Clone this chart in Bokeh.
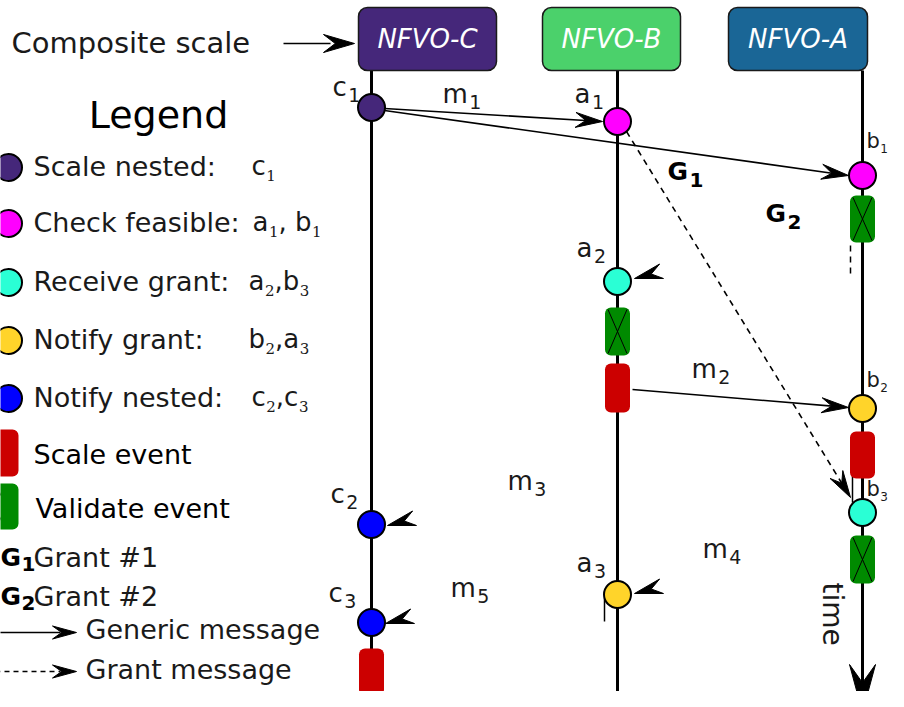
import math
from bokeh.plotting import figure
from bokeh.models import Range1d
from bokeh.core.properties import value
from bokeh.embed import file_html
from bokeh.resources import INLINE

# ---------------- data ----------------
lane_names = ["NFVO-C", "NFVO-B", "NFVO-A"]
lane_x = [371, 617, 862]
lane_top = [70, 70, 70]
lane_bottom = [703, 697, 690]
header_left = [358, 542, 728]
header_right = [496, 680, 867]
header_top = [7, 7, 7]
header_bottom = [70, 70, 70]
header_colors = ["#45277a", "#4bd16b", "#1a6696"]

event_main = ["c", "c", "c", "a", "a", "a", "b", "b", "b"]
event_sub = ["1", "2", "3", "1", "2", "3", "1", "2", "3"]
event_lane = [0, 0, 0, 1, 1, 1, 2, 2, 2]
event_y = [107, 524, 622, 121, 281, 594, 175, 408, 512]
event_kind = ["nested", "nnested", "nnested", "check", "receive", "notify",
              "check", "notify", "receive"]
event_label_x = [332, 330, 328, 574, 576, 576, 866, 866, 866]
event_label_base = [96, 503, 602, 103, 257, 572, 148, 387, 496]
event_label_size = [26, 26, 26, 26, 26, 26, 21, 21, 21]

kind_color = {"nested": "#45277a", "check": "#ff00ff", "receive": "#2affd5",
              "notify": "#ffd42a", "nnested": "#0000ff"}

block_lane = [0, 1, 1, 2, 2, 2]
block_top = [648, 307, 363, 195, 431, 535]
block_bottom = [695, 355, 412, 242, 478, 583]
block_kind = ["scale", "validate", "scale", "validate", "scale", "validate"]
block_color = {"scale": "#cc0000", "validate": "#008a00"}

msg_x0 = [384, 384, 632, 626]
msg_y0 = [108, 110, 389, 131]
msg_x1 = [602, 848, 848, 850]
msg_y1 = [121, 175, 407, 497]
msg_dash = ["solid", "solid", "solid", "6 5"]

msg_main = ["m", "m", "m", "m", "m"]
msg_sub = ["1", "2", "3", "4", "5"]
msg_label_x = [442, 691, 507, 702, 450]
msg_label_base = [103, 378, 490, 558, 597]

grant_sub = ["1", "2"]
grant_label_x = [667, 765]
grant_label_base = [180, 222]

# incoming arrowheads (pointing left onto events a2, c2, c3, a3)
inc_x = [634, 387, 385, 634]
inc_y = [278, 525, 623, 593]

legend_labels = ["Scale nested:", "Check feasible:", "Receive grant:",
                 "Notify grant:", "Notify nested:"]
legend_values = ["c₁", "a₁, b₁", "a₂,b₃", "b₂,a₃", "c₂,c₃"]
legend_kinds = ["nested", "check", "receive", "notify", "nnested"]
legend_value_x = [251, 252, 248, 248, 251]
legend_base = [175, 231, 290, 348, 406]

legend_blocks = ["Scale event", "Validate event"]
legend_block_kind = ["scale", "validate"]
legend_block_top = [429, 483]
legend_block_bottom = [476, 529]
legend_block_text_x = [33, 35]
legend_block_base = [463, 517]

legend_grants = ["Grant #1", "Grant #2"]
legend_grant_base = [566, 605]

legend_msgs = ["Generic message", "Grant message"]
legend_msg_y = [632, 671]
legend_msg_base = [638, 678]
legend_msg_dash = ["solid", "5 4"]

# ---------------- figure ----------------
p = figure(width=888, height=691, x_range=Range1d(0, 888), y_range=Range1d(691, 0),
           toolbar_location=None, output_backend="svg", min_border=0,
           x_axis_type=None, y_axis_type=None)
p.xgrid.visible = False
p.ygrid.visible = False
p.outline_line_color = None
p.background_fill_color = "white"
p.border_fill_color = "white"

SANS = "DejaVu Sans"
MID = 0.35  # anchor offset (fraction of font size) from baseline to text centre
ADV = {"a": 0.613, "b": 0.635, "c": 0.550, "m": 0.974, ",": 0.318, " ": 0.318,
       "G": 0.82}
SUBS = {"₁": "1", "₂": "2", "₃": "3"}


def txt(xs, bases, texts, size, font=SANS, style="normal", color="#1a1a1a",
        align="left"):
    p.text(x=xs, y=[b - MID * size for b in bases], text=texts,
           text_font=value(font), text_font_size=f"{size}px", text_font_style=style,
           text_color=color, text_align=align, text_baseline="alphabetic")


def sublabel(x, base, main, sub, size=26, sub_size=19, style="normal", drop=5,
             color="#1a1a1a", gap=1.5):
    w = sum(ADV.get(ch, 0.6) for ch in main) * size
    txt([x], [base], [main], size, style=style, color=color)
    txt([x + w + gap], [base + drop], [sub], sub_size, style=style, color=color)


def stealth(tx, ty, dx, dy, L, W):
    n = math.hypot(dx, dy)
    dx, dy = dx / n, dy / n
    nx, ny = -dy, dx
    bx, by = tx - L * dx, ty - L * dy
    mx, my = tx - 0.62 * L * dx, ty - 0.62 * L * dy
    return ([tx, bx + W / 2 * nx, mx, bx - W / 2 * nx],
            [ty, by + W / 2 * ny, my, by - W / 2 * ny])


heads_x, heads_y = [], []

# lifelines
p.segment(x0=lane_x, y0=lane_top, x1=lane_x, y1=lane_bottom, line_color="black", line_width=3)
hx, hy = stealth(lane_x[2], 712, 0, 1, 48, 26)
heads_x.append(hx); heads_y.append(hy)

# extra small strokes
p.segment(x0=[850], y0=[245], x1=[850], y1=[277], line_color="black", line_width=1.5, line_dash="6 5")
p.segment(x0=[852, 604], y0=[458, 597], x1=[852, 604], y1=[502, 621], line_color="black", line_width=1.5)

# messages
for x0, y0, x1, y1, d in zip(msg_x0, msg_y0, msg_x1, msg_y1, msg_dash):
    p.line([x0, x1 - (x1 - x0) * 0.02], [y0, y1 - (y1 - y0) * 0.02], line_color="black",
           line_width=1.6, line_dash=d)
    hx, hy = stealth(x1, y1, x1 - x0, y1 - y0, 27, 15)
    heads_x.append(hx); heads_y.append(hy)

# header boxes
p.quad(left=header_left, right=header_right, top=header_top, bottom=header_bottom,
       fill_color=header_colors, line_color="#1a1a1a", line_width=1.5, border_radius=9)
txt([(l + r) / 2 for l, r in zip(header_left, header_right)], [48, 48, 48], lane_names,
    26, style="italic", color="white", align="center")

# blocks
bl = [lane_x[i] - 12.5 for i in block_lane]
br = [lane_x[i] + 12.5 for i in block_lane]
p.quad(left=bl, right=br, top=block_top, bottom=block_bottom,
       fill_color=[block_color[k] for k in block_kind], line_color=None, border_radius=6)
vx = [(l, r, t, b) for l, r, t, b, k in zip(bl, br, block_top, block_bottom, block_kind) if k == "validate"]
vx += [(-7, 18, t, b) for t, b, k in zip(legend_block_top, legend_block_bottom, legend_block_kind) if k == "validate"]
p.segment(x0=[v[0] + 3 for v in vx] + [v[1] - 3 for v in vx],
          y0=[v[2] + 2 for v in vx] * 2,
          x1=[v[1] - 3 for v in vx] + [v[0] + 3 for v in vx],
          y1=[v[3] - 2 for v in vx] * 2, line_color="black", line_width=1)

# events
p.scatter(x=[lane_x[i] for i in event_lane], y=event_y, size=27,
          fill_color=[kind_color[k] for k in event_kind], line_color="black", line_width=2)
for x, b, m, s, sz in zip(event_label_x, event_label_base, event_main, event_sub, event_label_size):
    if sz < 26:
        sublabel(x, b, m, s, size=sz, sub_size=12, gap=0.3, drop=4)
    else:
        sublabel(x, b, m, s, size=sz, sub_size=19)

# incoming arrowheads
for x, y in zip(inc_x, inc_y):
    hx, hy = stealth(x, y, -0.966, 0.259, 28, 15)
    heads_x.append(hx); heads_y.append(hy)

# message labels
for x, b, m, s in zip(msg_label_x, msg_label_base, msg_main, msg_sub):
    sublabel(x, b, m, s)
for x, b, s in zip(grant_label_x, grant_label_base, grant_sub):
    sublabel(x, b, "G", s, size=25, sub_size=20, style="bold", drop=6, color="black")

# time label
p.text(x=[832], y=[582], text=["time"], angle=-math.pi / 2, text_font=value(SANS),
       text_font_size="28px", text_color="#1a1a1a", text_baseline="alphabetic")

# composite scale
txt([11], [53], ["Composite scale"], 29)
p.line([283, 330], [43, 43], line_color="black", line_width=1.6)
hx, hy = stealth(354, 43, 1, 0, 31, 18)
heads_x.append(hx); heads_y.append(hy)

# legend
txt([158], [128], ["Legend"], 38, color="black", align="center")
p.scatter(x=[8] * len(legend_kinds), y=[b - 8 for b in legend_base], size=27,
          fill_color=[kind_color[k] for k in legend_kinds], line_color="black", line_width=2)
txt([33] * len(legend_labels), legend_base, legend_labels, 27)
for x0, b, v in zip(legend_value_x, legend_base, legend_values):
    x = x0
    run = ""
    for ch in v + "\0":
        if ch in SUBS or ch == "\0":
            if run:
                txt([x], [b], [run], 26)
                x += sum(ADV.get(c, 0.6) for c in run) * 26
                run = ""
            if ch in SUBS:
                txt([x + 0.5], [b + 5], [SUBS[ch]], 15, font="DejaVu Serif")
                x += 0.636 * 15 + 0.5
        else:
            run += ch

p.quad(left=[-7] * 2, right=[18] * 2, top=legend_block_top, bottom=legend_block_bottom,
       fill_color=[block_color[k] for k in legend_block_kind], line_color=None, border_radius=6)
txt(legend_block_text_x, legend_block_base, legend_blocks, 27, color="black")

for b, s in zip(legend_grant_base, grant_sub):
    sublabel(0, b, "G", s, size=25, sub_size=20, style="bold", drop=4, color="black",
             gap=0.5)
txt([33, 33], legend_grant_base, legend_grants, 27)

for y, d in zip(legend_msg_y, legend_msg_dash):
    p.line([-5, 60], [y, y], line_color="black", line_width=1.6, line_dash=d)
    hx, hy = stealth(76, y, 1, 0, 24, 13)
    heads_x.append(hx); heads_y.append(hy)
txt([85, 85], legend_msg_base, legend_msgs, 27)

p.patches(xs=heads_x, ys=heads_y, fill_color="black", line_color="black", line_width=1)

open("out.html", "w").write(file_html(p, INLINE))
